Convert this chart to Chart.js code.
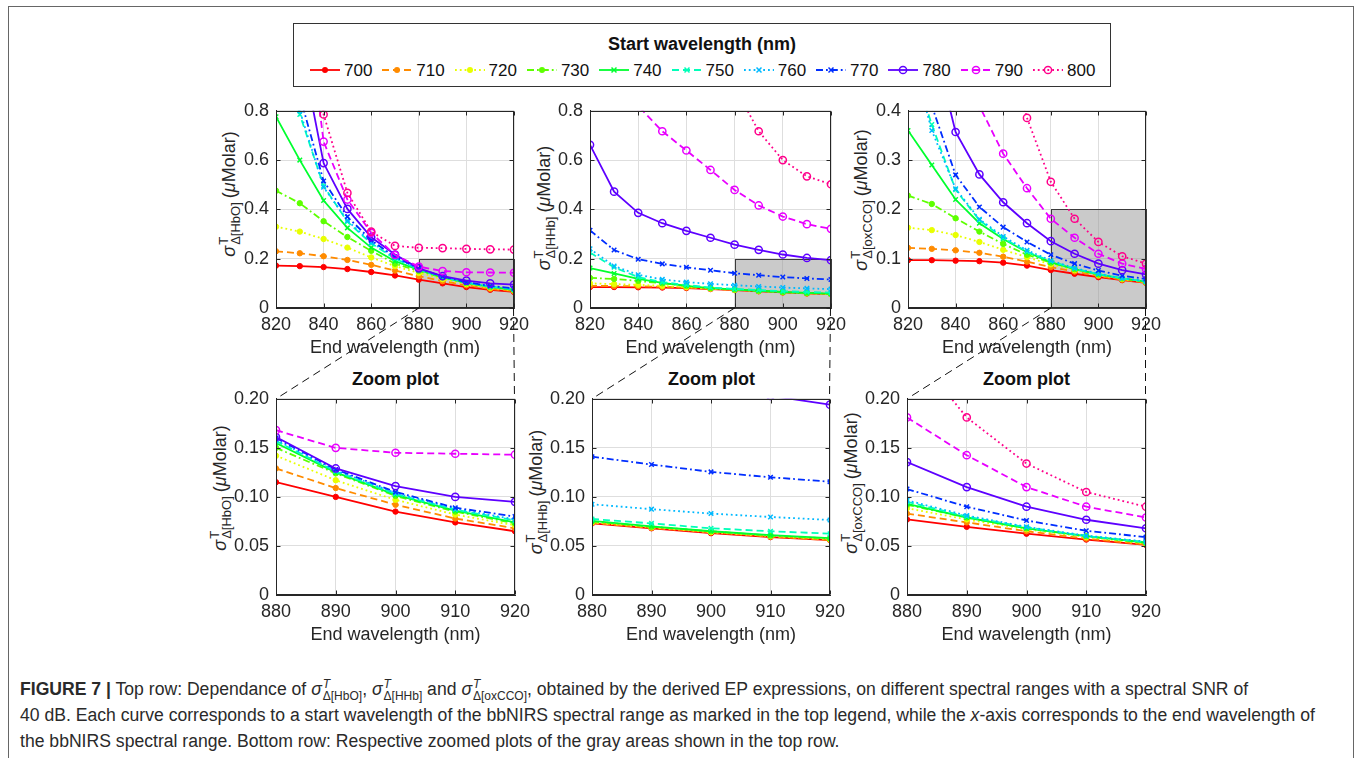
<!DOCTYPE html>
<html>
<head>
<meta charset="utf-8">
<script src="https://cdn.jsdelivr.net/npm/chart.js@4.4.1/dist/chart.umd.min.js"></script>
<style>
  body { margin: 0; width: 1356px; height: 758px; overflow: hidden; background: #fff;
         font-family: "Liberation Sans", Arial, sans-serif; color: #262626; position: relative; }
  #frame { position: absolute; left: 8px; top: 6px; width: 1346px; height: 800px; border: 1px solid #666; box-sizing: border-box; }
  .pane { position: absolute; }
  #links { position: absolute; left: 0; top: 0; pointer-events: none; }
  #legend { position: absolute; left: 293px; top: 23px; width: 818px; height: 64px; border: 1px solid #333; box-sizing: border-box; }
  #legend .ttl { position: absolute; left: 0; right: 0; top: 10px; text-align: center; font-weight: bold; font-size: 18px; color: #111; }
  #legend .item { position: absolute; top: 34px; height: 24px; font-size: 17px; color: #111; white-space: nowrap; }
  #legend .item svg { position: absolute; left: 0; top: 0; }
  #legend .item span { position: absolute; left: 34px; top: 3px; }
  .ylab { position: absolute; white-space: nowrap; font-size: 18px; color: #262626;
          transform: translate(-50%, -50%) rotate(-90deg); }
  .ss { display: inline-block; vertical-align: middle; font-size: 13px; line-height: 12px; margin-left: 1px; margin-right: 4px; text-align: left; }
  .ss b { display: block; font-weight: normal; }
  .zt { position: absolute; width: 239px; text-align: center; font-weight: bold; font-size: 18px; color: #111; }
  .cap { position: absolute; left: 20px; white-space: nowrap; font-size: 17.6px; color: #2a2a2a; }
  .cm { display: inline-block; vertical-align: middle; font-size: 12px; line-height: 12px; margin-left: 1px; }
  .cm b { display: block; font-weight: normal; }
</style>
</head>
<body>
<div id="frame"></div>
<div id="legend"><div class="ttl">Start wavelength (nm)</div></div>

<div class="ylab" style="left:230px;top:194px"><i>σ</i><span class="ss"><b>T</b><b>Δ[HbO]</b></span>(<i>μ</i>Molar)</div>
<div class="ylab" style="left:545px;top:208px"><i>σ</i><span class="ss"><b>T</b><b>Δ[HHb]</b></span>(<i>μ</i>Molar)</div>
<div class="ylab" style="left:862px;top:200px"><i>σ</i><span class="ss"><b>T</b><b>Δ[oxCCO]</b></span>(<i>μ</i>Molar)</div>
<div class="ylab" style="left:221px;top:488px"><i>σ</i><span class="ss"><b>T</b><b>Δ[HbO]</b></span>(<i>μ</i>Molar)</div>
<div class="ylab" style="left:537px;top:492px"><i>σ</i><span class="ss"><b>T</b><b>Δ[HHb]</b></span>(<i>μ</i>Molar)</div>
<div class="ylab" style="left:852px;top:483px"><i>σ</i><span class="ss"><b>T</b><b>Δ[oxCCO]</b></span>(<i>μ</i>Molar)</div>

<div class="zt" style="left:276px;top:369px">Zoom plot</div>
<div class="zt" style="left:592px;top:369px">Zoom plot</div>
<div class="zt" style="left:907px;top:369px">Zoom plot</div>

<div class="cap" style="top:678px"><b>FIGURE 7 |</b> Top row: Dependance of <i>σ</i><span class="cm"><b><i>T</i></b><b>Δ[HbO]</b></span>, <i>σ</i><span class="cm"><b><i>T</i></b><b>Δ[HHb]</b></span> and <i>σ</i><span class="cm"><b><i>T</i></b><b>Δ[oxCCO]</b></span>, obtained by the derived EP expressions, on different spectral ranges with a spectral SNR of</div>
<div class="cap" style="top:705px">40 dB. Each curve corresponds to a start wavelength of the bbNIRS spectral range as marked in the top legend, while the <i>x</i>-axis corresponds to the end wavelength of</div>
<div class="cap" style="top:731px">the bbNIRS spectral range. Bottom row: Respective zoomed plots of the gray areas shown in the top row.</div>

<canvas id="links" width="1356" height="758"></canvas>

<script>
// end wavelength (x axis) and start wavelength (one curve each)
const endWl = [820, 830, 840, 850, 860, 870, 880, 890, 900, 910, 920];
const startWl = ['700', '710', '720', '730', '740', '750', '760', '770', '780', '790', '800'];

// sigma values (uMolar), one row per start wavelength, columns follow endWl
const hboSigma = [
  [0.172, 0.170, 0.166, 0.158, 0.146, 0.132, 0.115, 0.100, 0.085, 0.074, 0.065],
  [0.230, 0.222, 0.210, 0.195, 0.175, 0.152, 0.129, 0.109, 0.092, 0.078, 0.068],
  [0.330, 0.310, 0.280, 0.245, 0.205, 0.170, 0.142, 0.117, 0.097, 0.082, 0.071],
  [0.476, 0.425, 0.352, 0.288, 0.232, 0.180, 0.150, 0.124, 0.101, 0.085, 0.073],
  [0.776, 0.600, 0.436, 0.325, 0.245, 0.190, 0.155, 0.125, 0.102, 0.086, 0.074],
  [1.150, 0.785, 0.495, 0.350, 0.262, 0.200, 0.157, 0.126, 0.103, 0.087, 0.076],
  [1.250, 0.800, 0.490, 0.355, 0.266, 0.205, 0.158, 0.127, 0.104, 0.088, 0.077],
  [1.350, 0.860, 0.515, 0.370, 0.275, 0.208, 0.160, 0.128, 0.105, 0.089, 0.080],
  [1.600, 1.080, 0.588, 0.402, 0.287, 0.217, 0.161, 0.129, 0.111, 0.100, 0.095],
  [2.400, 1.450, 0.675, 0.440, 0.305, 0.215, 0.168, 0.150, 0.145, 0.144, 0.143],
  [3.000, 1.800, 0.785, 0.467, 0.310, 0.252, 0.244, 0.243, 0.240, 0.238, 0.237]
];
const hhbSigma = [
  [0.085, 0.085, 0.084, 0.083, 0.081, 0.077, 0.073, 0.068, 0.063, 0.059, 0.056],
  [0.090, 0.089, 0.088, 0.086, 0.083, 0.078, 0.0735, 0.0685, 0.064, 0.0595, 0.056],
  [0.100, 0.097, 0.094, 0.090, 0.085, 0.079, 0.074, 0.069, 0.064, 0.060, 0.057],
  [0.122, 0.118, 0.110, 0.100, 0.090, 0.081, 0.075, 0.0695, 0.065, 0.0605, 0.0575],
  [0.162, 0.140, 0.118, 0.102, 0.090, 0.081, 0.0755, 0.070, 0.065, 0.061, 0.058],
  [0.225, 0.165, 0.125, 0.105, 0.093, 0.083, 0.0775, 0.073, 0.068, 0.065, 0.0625],
  [0.240, 0.170, 0.135, 0.116, 0.105, 0.098, 0.0925, 0.0875, 0.083, 0.0795, 0.0765],
  [0.315, 0.235, 0.198, 0.179, 0.165, 0.153, 0.141, 0.133, 0.1255, 0.120, 0.1155],
  [0.662, 0.472, 0.386, 0.344, 0.313, 0.285, 0.257, 0.236, 0.217, 0.203, 0.194],
  [1.300, 0.950, 0.820, 0.717, 0.639, 0.560, 0.479, 0.416, 0.371, 0.340, 0.321],
  [5.000, 4.000, 3.200, 2.400, 1.650, 1.180, 0.897, 0.717, 0.600, 0.534, 0.502]
];
const oxccoSigma = [
  [0.097, 0.097, 0.096, 0.095, 0.092, 0.086, 0.077, 0.0695, 0.0625, 0.0565, 0.051],
  [0.122, 0.120, 0.117, 0.112, 0.104, 0.094, 0.083, 0.074, 0.065, 0.0575, 0.0515],
  [0.163, 0.158, 0.148, 0.134, 0.118, 0.103, 0.0885, 0.077, 0.067, 0.059, 0.0525],
  [0.228, 0.211, 0.182, 0.155, 0.130, 0.108, 0.092, 0.079, 0.068, 0.060, 0.053],
  [0.360, 0.290, 0.220, 0.172, 0.140, 0.113, 0.093, 0.079, 0.068, 0.060, 0.0535],
  [0.520, 0.372, 0.240, 0.178, 0.142, 0.114, 0.095, 0.080, 0.069, 0.060, 0.054],
  [0.540, 0.360, 0.242, 0.180, 0.145, 0.117, 0.0965, 0.081, 0.0695, 0.0605, 0.0545],
  [0.620, 0.410, 0.270, 0.205, 0.164, 0.134, 0.108, 0.090, 0.076, 0.0655, 0.059],
  [0.850, 0.552, 0.357, 0.271, 0.2145, 0.172, 0.1355, 0.110, 0.090, 0.0767, 0.068],
  [1.300, 0.850, 0.560, 0.410, 0.313, 0.243, 0.181, 0.1425, 0.110, 0.090, 0.079],
  [2.000, 1.500, 1.050, 0.750, 0.560, 0.3856, 0.256, 0.181, 0.134, 0.105, 0.090]
];

// gray zoom area
const zoomX = [880, 920];
const zoomY = [0, 0.2];

// styles (matlab hsv(11), line styles cycle -, --, :, -.)
const lineColors = ['#ff0000', '#ff8b00', '#e8ff00', '#5dff00', '#00ff2e', '#00ffb9',
                    '#00b9ff', '#002eff', '#5d00ff', '#e800ff', '#ff008b'];
const dashes = [[], [7, 4], [1.8, 3], [7, 3, 1.8, 3]];
const markers = ['dot', 'dot', 'dot', 'dot', 'x', 'x', 'x', 'x', 'o', 'o', 'o'];

const ML = 70, MT = 12, MR = 22, MB = 51;
const FONT = { family: '"Liberation Sans", Arial, sans-serif', size: 18 };
const INK = '#262626';

const panels = [
  { data: hboSigma,   left: 276, top: 105, w: 238, h: 203, yMax: 0.8, yStep: 0.2,  xMin: 820, xStep: 20, gray: true },
  { data: hhbSigma,   left: 590, top: 105, w: 241, h: 203, yMax: 0.8, yStep: 0.2,  xMin: 820, xStep: 20, gray: true },
  { data: oxccoSigma, left: 908, top: 105, w: 238, h: 203, yMax: 0.4, yStep: 0.1,  xMin: 820, xStep: 20, gray: true },
  { data: hboSigma,   left: 276, top: 393, w: 239, h: 202, yMax: 0.2, yStep: 0.05, xMin: 880, xStep: 10, gray: false },
  { data: hhbSigma,   left: 592, top: 393, w: 238, h: 202, yMax: 0.2, yStep: 0.05, xMin: 880, xStep: 10, gray: false },
  { data: oxccoSigma, left: 907, top: 393, w: 239, h: 202, yMax: 0.2, yStep: 0.05, xMin: 880, xStep: 10, gray: false }
];

// axes box, inner ticks and the gray area
const axesBox = {
  id: 'axesBox',
  beforeDatasetsDraw(chart, args, opts) {
    if (!opts.gray) return;
    const { ctx, scales: { x, y } } = chart;
    const x0 = Math.round(x.getPixelForValue(zoomX[0])), x1 = Math.round(x.getPixelForValue(zoomX[1]));
    const y0 = Math.round(y.getPixelForValue(zoomY[1])), y1 = Math.round(y.getPixelForValue(zoomY[0]));
    ctx.save();
    ctx.fillStyle = 'rgba(150,150,150,0.5)';
    ctx.fillRect(x0, y0, x1 - x0, y1 - y0);
    ctx.strokeStyle = '#3a3a3a';
    ctx.lineWidth = 1;
    ctx.strokeRect(x0 + 0.5, y0 + 0.5, x1 - x0, y1 - y0);
    ctx.restore();
  },
  afterDatasetsDraw(chart) {
    const { ctx, chartArea: a, scales: { x, y } } = chart;
    const l = Math.round(a.left) + 0.5, r = Math.round(a.right) - 0.5;
    const t = Math.round(a.top) + 0.5, b = Math.round(a.bottom) - 0.5;
    ctx.save();
    ctx.strokeStyle = INK;
    ctx.lineWidth = 1;
    ctx.strokeRect(l, t, r - l, b - t);
    ctx.beginPath();
    x.ticks.forEach(tk => {
      const px = Math.round(x.getPixelForValue(tk.value)) + 0.5;
      ctx.moveTo(px, b); ctx.lineTo(px, b - 4);
      ctx.moveTo(px, t); ctx.lineTo(px, t + 4);
    });
    y.ticks.forEach(tk => {
      const py = Math.round(y.getPixelForValue(tk.value)) + 0.5;
      ctx.moveTo(l, py); ctx.lineTo(l + 4, py);
      ctx.moveTo(r, py); ctx.lineTo(r - 4, py);
    });
    ctx.stroke();
    ctx.restore();
  }
};

function makeDatasets(rows, xMin) {
  return rows.map((row, i) => {
    const c = lineColors[i];
    const m = markers[i];
    return {
      label: startWl[i],
      data: endWl.map((x, j) => ({ x: x, y: row[j] })).filter(p => p.x >= xMin),
      borderColor: c,
      backgroundColor: c,
      borderWidth: 1.8,
      borderDash: dashes[i % 4],
      tension: 0,
      pointStyle: m === 'x' ? 'crossRot' : 'circle',
      pointRadius: m === 'o' ? 3.6 : (m === 'x' ? 3.2 : 2.7),
      pointBorderWidth: m === 'dot' ? 1 : 1.5,
      pointBorderColor: c,
      pointBackgroundColor: m === 'o' ? 'rgba(255,255,255,0)' : c,
      order: -i
    };
  });
}

const charts = panels.map(p => {
  const wrap = document.createElement('div');
  wrap.className = 'pane';
  wrap.style.left = (p.left - ML) + 'px';
  wrap.style.top = (p.top - MT) + 'px';
  const cv = document.createElement('canvas');
  cv.width = p.w + ML + MR;
  cv.height = p.h + MT + MB;
  wrap.appendChild(cv);
  document.body.insertBefore(wrap, document.getElementById('links'));

  return new Chart(cv.getContext('2d'), {
    type: 'line',
    data: { datasets: makeDatasets(p.data, p.xMin) },
    options: {
      responsive: false,
      animation: false,
      events: [],
      layout: { padding: { top: MT, right: MR, left: 0, bottom: 0 } },
      plugins: {
        legend: { display: false },
        tooltip: { enabled: false },
        axesBox: { gray: p.gray }
      },
      scales: {
        x: {
          type: 'linear',
          min: p.xMin, max: 920,
          ticks: { stepSize: p.xStep, padding: 6, color: INK, font: FONT, maxRotation: 0 },
          grid: { color: '#dedede', drawTicks: false },
          border: { color: INK },
          title: { display: true, text: 'End wavelength (nm)', color: INK, font: FONT, padding: 0 },
          afterFit(s) { s.height = MB; }
        },
        y: {
          min: 0, max: p.yMax,
          ticks: { stepSize: p.yStep, padding: 7, color: INK, font: FONT },
          grid: { color: '#dedede', drawTicks: false },
          border: { color: INK },
          afterFit(s) { s.width = ML; }
        }
      }
    },
    plugins: [axesBox]
  });
});

// dashed lines from gray areas to the zoom plots
(function drawLinks() {
  const ctx = document.getElementById('links').getContext('2d');
  ctx.strokeStyle = '#111';
  ctx.lineWidth = 1;
  ctx.setLineDash([8, 5]);
  for (let k = 0; k < 3; k++) {
    const t = charts[k], b = charts[k + 3];
    const tx = panels[k].left - ML, ty = panels[k].top - MT;
    const bx = panels[k + 3].left - ML, by = panels[k + 3].top - MT;
    const yb = ty + t.scales.y.getPixelForValue(zoomY[0]);
    ctx.beginPath();
    ctx.moveTo(tx + t.scales.x.getPixelForValue(zoomX[0]), yb);
    ctx.lineTo(bx + b.chartArea.left, by + b.chartArea.top);
    ctx.moveTo(Math.round(tx + t.scales.x.getPixelForValue(zoomX[1])) - 0.5, yb);
    ctx.lineTo(Math.round(bx + b.chartArea.right) - 0.5, by + b.chartArea.top);
    ctx.stroke();
  }
})();

// legend: line style + marker sample per start wavelength
(function buildLegend() {
  const lg = document.getElementById('legend');
  startWl.forEach((lab, i) => {
    const c = lineColors[i], m = markers[i];
    const item = document.createElement('div');
    item.className = 'item';
    item.style.left = (16 + i * 72.3) + 'px';
    let mk = '';
    if (m === 'dot') mk = `<circle cx="15" cy="12" r="3" fill="${c}"/>`;
    if (m === 'x') mk = `<path d="M12.5 9.5L17.5 14.5M17.5 9.5L12.5 14.5" stroke="${c}" stroke-width="1.5"/>`;
    if (m === 'o') mk = `<circle cx="15" cy="12" r="3.6" fill="none" stroke="${c}" stroke-width="1.5"/>`;
    const d = dashes[i % 4].join(' ');
    item.innerHTML = `<svg width="32" height="24"><line x1="0" y1="12" x2="30" y2="12" stroke="${c}" stroke-width="1.8"${d ? ` stroke-dasharray="${d}"` : ''}/>${mk}</svg><span>${lab}</span>`;
    lg.appendChild(item);
  });
})();
</script>
</body>
</html>
